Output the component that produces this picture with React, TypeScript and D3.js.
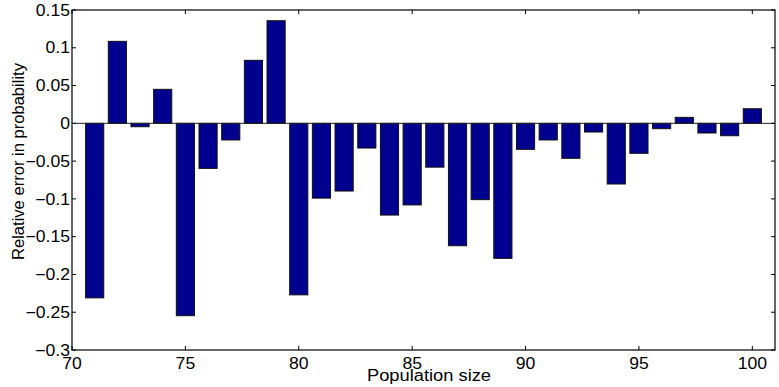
import React, { useEffect, useRef } from 'react';
import * as d3 from 'd3';

// population sizes and relative error
const sizes = [71, 72, 73, 74, 75, 76, 77, 78, 79, 80, 81, 82, 83, 84, 85, 86, 87, 88, 89, 90, 91, 92, 93, 94, 95, 96, 97, 98, 99, 100];
const errors = [
  -0.231, 0.1085, -0.0045, 0.045, -0.2546, -0.0596, -0.022, 0.0834, 0.1358, -0.227,
  -0.099, -0.0896, -0.0327, -0.1214, -0.108, -0.058, -0.162, -0.101, -0.1787, -0.0344,
  -0.022, -0.0463, -0.0115, -0.0803, -0.0397, -0.0071, 0.0079, -0.0128, -0.0164, 0.0193,
];
const xTicks = [70, 75, 80, 85, 90, 95, 100];
const yTicks = [0.15, 0.1, 0.05, 0, -0.05, -0.1, -0.15, -0.2, -0.25, -0.3];

export default function App() {
  const ref = useRef<SVGSVGElement>(null);

  useEffect(() => {
    const svg = d3.select(ref.current);
    svg.selectAll('*').remove();

    const left = 72, top = 10, right = 775, bottom = 350;
    const font = 'Helvetica, Arial, "Liberation Sans", sans-serif';
    const fs = 16;
    const sx = 1.1; // the original glyphs are a bit wider than Arial's

    const x = d3.scaleLinear().domain([70, 101]).range([left, right]);
    const y = d3.scaleLinear().domain([-0.3, 0.15]).range([bottom, top]);
    const barW = x(70.8) - x(70);

    // bars
    svg.append('g')
      .selectAll('rect')
      .data(sizes)
      .enter()
      .append('rect')
      .attr('x', (d) => x(d) - barW / 2)
      .attr('width', barW)
      .attr('y', (d, i) => y(Math.max(0, errors[i])))
      .attr('height', (d, i) => Math.abs(y(errors[i]) - y(0)))
      .attr('fill', '#00008f')
      .attr('stroke', '#111')
      .attr('stroke-width', 1);

    // baseline at zero
    svg.append('line')
      .attr('x1', left).attr('x2', right)
      .attr('y1', y(0)).attr('y2', y(0))
      .attr('stroke', '#222').attr('stroke-width', 1);

    // box
    svg.append('rect')
      .attr('x', left).attr('y', top)
      .attr('width', right - left).attr('height', bottom - top)
      .attr('fill', 'none').attr('stroke', '#000').attr('stroke-width', 1.2);

    const tl = 4;
    const ticks = svg.append('g').attr('stroke', '#000').attr('stroke-width', 1);
    xTicks.forEach((t) => {
      ticks.append('line').attr('x1', x(t)).attr('x2', x(t)).attr('y1', bottom).attr('y2', bottom - tl);
      ticks.append('line').attr('x1', x(t)).attr('x2', x(t)).attr('y1', top).attr('y2', top + tl);
    });
    yTicks.forEach((t) => {
      ticks.append('line').attr('x1', left).attr('x2', left + tl).attr('y1', y(t)).attr('y2', y(t));
      ticks.append('line').attr('x1', right).attr('x2', right - tl).attr('y1', y(t)).attr('y2', y(t));
    });

    // tick labels
    svg.append('g')
      .selectAll('text')
      .data(xTicks)
      .enter()
      .append('text')
      .attr('transform', (d) => `translate(${x(d)},368.5) scale(${sx},1)`)
      .attr('text-anchor', 'middle')
      .attr('font-family', font)
      .attr('font-size', fs)
      .text((d) => String(d));

    svg.append('g')
      .selectAll('text')
      .data(yTicks)
      .enter()
      .append('text')
      .attr('transform', (d) => `translate(70,${y(d) + 5.7}) scale(${sx},1)`)
      .attr('text-anchor', 'end')
      .attr('font-family', font)
      .attr('font-size', fs)
      .text((d) => (d < 0 ? '\u2212' + String(-d) : String(d)));

    // axis titles
    svg.append('text')
      .attr('x', 367)
      .attr('y', 381)
      .attr('textLength', 124)
      .attr('lengthAdjust', 'spacingAndGlyphs')
      .attr('font-family', font)
      .attr('font-size', fs)
      .text('Population size');

    svg.append('text')
      .attr('transform', 'translate(24,260) rotate(-90)')
      .attr('textLength', 197)
      .attr('lengthAdjust', 'spacingAndGlyphs')
      .attr('font-family', font)
      .attr('font-size', fs)
      .text('Relative error in probability');
  }, []);

  return (
    <svg
      ref={ref}
      width={779}
      height={387}
      style={{ position: 'absolute', left: 0, top: 0, background: '#fff' }}
    />
  );
}
